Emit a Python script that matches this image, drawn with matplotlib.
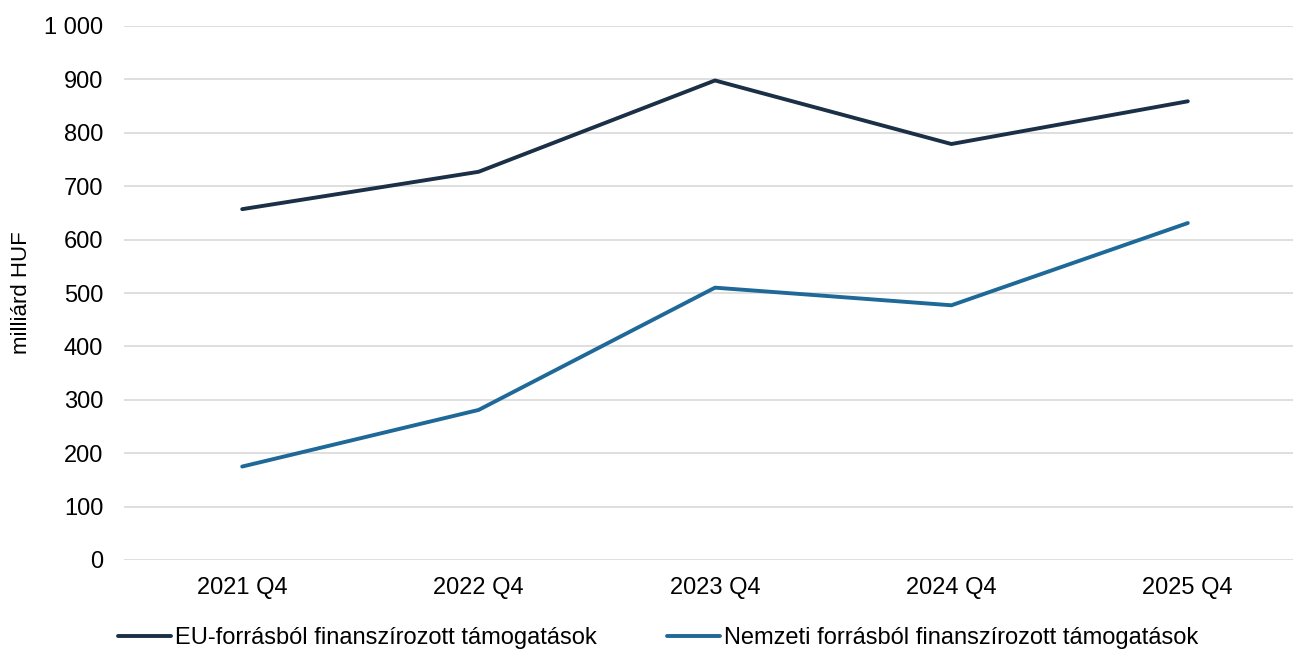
import matplotlib
matplotlib.use("Agg")
import matplotlib.pyplot as plt
from matplotlib.ticker import FuncFormatter

categories = ["2021 Q4", "2022 Q4", "2023 Q4", "2024 Q4", "2025 Q4"]
eu_values = [657, 727, 898, 779, 859]
national_values = [175, 281, 510, 477, 631]
series_names = ["EU-forrásból finanszírozott támogatások",
                "Nemzeti forrásból finanszírozott támogatások"]

plt.rcParams['font.family'] = ['Liberation Sans', 'DejaVu Sans']

fig = plt.figure(figsize=(12.93, 6.51), dpi=100)
ax = fig.add_axes([124/1293, 1-560/651, (1306-124)/1293, (560-26)/651])

x = list(range(len(categories)))
ax.plot(x, eu_values, color="#1b3047", lw=2.8, solid_capstyle="round", label=series_names[0], zorder=3)
ax.plot(x, national_values, color="#1f6999", lw=2.8, solid_capstyle="round", label=series_names[1], zorder=3)

ax.set_xlim(-0.5, 4.5)
ax.set_ylim(0, 1000)
ax.set_yticks(range(0, 1001, 100))
ax.yaxis.set_major_formatter(FuncFormatter(lambda v, p: f"{int(v):,}".replace(",", " ")))
ax.set_xticks(x)
ax.set_xticklabels(categories)
ax.grid(axis="y", color="#d9d9d9", lw=1.2)
ax.set_axisbelow(True)
for s in ax.spines.values():
    s.set_visible(False)
ax.tick_params(axis="both", length=0, labelsize=17, colors="black")
ax.tick_params(axis="y", pad=15)
ax.tick_params(axis="x", pad=12)
ax.set_ylabel("milliárd HUF", fontsize=16)
ax.yaxis.set_label_coords(-92/1182, 0.5)

fig.legend(loc="center", bbox_to_anchor=(658/1293, 1-638/651), ncol=2, frameon=False,
           fontsize=17, handlelength=2.25, handletextpad=0.17, columnspacing=2.95)

fig.savefig("out.png", dpi=100)
